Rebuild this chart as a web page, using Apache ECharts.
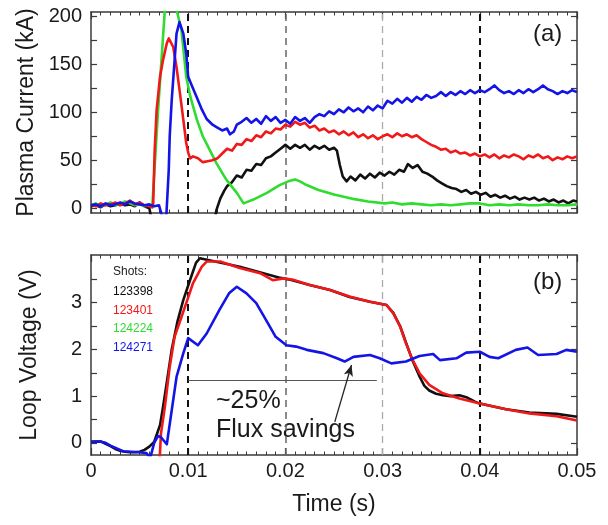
<!DOCTYPE html>
<html>
<head>
<meta charset="utf-8">
<script src="https://cdn.jsdelivr.net/npm/echarts@6/dist/echarts.min.js"></script>
<style>
html, body { margin: 0; padding: 0; background: #fff; }
#chart { width: 608px; height: 525px; }
</style>
</head>
<body>
<div id="chart"></div>
<script>
// ---- Panel (a): plasma current, kA, vs time, s ----
const ipBlack = [
  [0,2],[0.0005,3],[0.001,1],[0.0015,4],[0.002,2],[0.0025,3],[0.003,5],[0.0035,3],[0.004,4],[0.0045,2],
  [0.005,6],[0.0055,2],[0.006,0],[0.0064,-20],[0.0126,-20],[0.0129,-2],[0.0133,10],[0.0137,18],[0.0140,23],
  [0.0145,27],[0.0150,34],[0.0155,32],[0.0160,40],[0.0165,39],[0.0170,46],[0.0175,45],[0.0180,52],[0.0185,54],
  [0.0190,58],[0.0195,62],[0.0200,66],[0.0205,62],[0.0210,66],[0.0215,63],[0.0220,66],[0.0225,61],[0.0230,65],
  [0.0235,62],[0.0240,65],[0.0245,61],[0.0250,63],[0.0253,60],[0.0256,45],[0.0259,33],[0.0263,28],[0.0267,33],
  [0.0272,29],[0.0277,35],[0.0282,31],[0.0287,36],[0.0292,32],[0.0297,37],[0.0302,34],[0.0307,38],[0.0312,35],
  [0.0317,40],[0.0322,38],[0.0326,46],[0.0331,42],[0.0336,45],[0.0341,38],[0.0346,36],[0.0351,33],[0.0356,29],
  [0.0361,26],[0.0366,23],[0.0371,21],[0.0376,20],[0.0381,17],[0.0386,19],[0.0391,15],[0.0396,17],[0.0401,14],
  [0.0406,16],[0.0411,12],[0.0416,14],[0.0421,11],[0.0426,13],[0.0431,10],[0.0436,12],[0.0441,9],[0.0446,11],
  [0.0451,9],[0.0456,11],[0.0461,8],[0.0466,10],[0.0471,7],[0.0476,9],[0.0481,6],[0.0486,8],[0.0491,5],
  [0.0496,8],[0.0500,7]
];
const ipRed = [
  [0,4],[0.0005,2],[0.001,5],[0.0015,3],[0.002,4],[0.0025,6],[0.003,3],[0.0035,5],[0.004,8],[0.0045,4],
  [0.005,6],[0.0055,3],[0.006,2],[0.0063,1],[0.0064,5],[0.00655,60],[0.00675,102],[0.0071,137],[0.0074,154],
  [0.0078,172],[0.0080,177],[0.0082,175],[0.00846,168],[0.0088,147],[0.00915,120],[0.0095,92],[0.0098,68],
  [0.0100,58],[0.0102,52],[0.0105,54],[0.0110,52],[0.0115,48],[0.0117,46],[0.0120,49],[0.0125,50],[0.0130,52],
  [0.0135,57],[0.0140,62],[0.0145,60],[0.0150,67],[0.0155,66],[0.0160,72],[0.0165,70],[0.0170,76],[0.0175,74],
  [0.0180,80],[0.0185,78],[0.0190,83],[0.0195,82],[0.0200,87],[0.0205,85],[0.0210,90],[0.0215,87],[0.0220,89],
  [0.0225,84],[0.0230,86],[0.0235,81],[0.0240,83],[0.0245,79],[0.0250,81],[0.0255,77],[0.0260,80],[0.0265,76],
  [0.0270,79],[0.0275,74],[0.0280,77],[0.0285,73],[0.0290,76],[0.0295,72],[0.0300,75],[0.0305,77],[0.0310,74],
  [0.0315,78],[0.0320,75],[0.0325,77],[0.0330,74],[0.0335,76],[0.0340,72],[0.0345,69],[0.0350,66],[0.0355,64],
  [0.0360,61],[0.0365,62],[0.0370,58],[0.0375,60],[0.0380,57],[0.0385,58],[0.0390,55],[0.0395,57],[0.0400,54],
  [0.0405,56],[0.0410,53],[0.0415,56],[0.0420,52],[0.0425,55],[0.0430,53],[0.0435,56],[0.0440,54],[0.0445,51],
  [0.0450,55],[0.0455,53],[0.0460,56],[0.0465,52],[0.0470,54],[0.0475,50],[0.0480,53],[0.0485,51],[0.0490,54],
  [0.0495,52],[0.0500,54]
];
const ipGreen = [
  [0,3],[0.0005,5],[0.001,2],[0.0015,4],[0.002,6],[0.0025,3],[0.003,4],[0.0035,7],[0.004,5],[0.0045,3],
  [0.005,4],[0.0055,2],[0.006,3],[0.0063,1],[0.0064,2],[0.0069,102],[0.0076,207],[0.0082,250],[0.0088,207],
  [0.0093,186],[0.0098,137],[0.0102,117],[0.0109,92],[0.0115,75],[0.0122,61],[0.0129,47],[0.0139,30],
  [0.0150,16],[0.0157,5],[0.0167,9],[0.0181,16],[0.0194,24],[0.0203,28],[0.0210,30],[0.0215,28],[0.0220,25],
  [0.0234,19],[0.0251,14],[0.0268,10],[0.0285,7],[0.0302,5],[0.0310,6],[0.0320,4],[0.0330,5],[0.0340,4],
  [0.0350,3],[0.0360,4],[0.0370,3],[0.0380,4],[0.0390,5],[0.0400,5],[0.0410,3],[0.0420,4],[0.0430,3],
  [0.0440,4],[0.0450,3],[0.0460,3],[0.0470,4],[0.0480,3],[0.0490,3],[0.0500,4]
];
const ipBlue = [
  [0,3],[0.0005,4],[0.001,2],[0.0015,5],[0.002,3],[0.0025,4],[0.003,6],[0.0035,4],[0.004,7],[0.0045,5],
  [0.005,4],[0.0055,3],[0.006,4],[0.0065,2],[0.0070,3],[0.0073,-8],[0.00775,-8],[0.0080,40],[0.0081,75],
  [0.0083,112],[0.0085,140],[0.0088,182],[0.0091,194],[0.0093,188],[0.0095,182],[0.0098,161],[0.0100,137],
  [0.0104,127],[0.0109,115],[0.0114,103],[0.0119,93],[0.0125,87],[0.0130,84],[0.0135,81],[0.0140,83],
  [0.0143,77],[0.0147,80],[0.0150,87],[0.0155,90],[0.0160,94],[0.0165,89],[0.0170,93],[0.0175,88],[0.0180,96],
  [0.0185,91],[0.0190,95],[0.0195,89],[0.0200,92],[0.0205,88],[0.0210,95],[0.0215,91],[0.0220,94],[0.0225,89],
  [0.0230,95],[0.0235,98],[0.0240,96],[0.0245,101],[0.0250,98],[0.0255,103],[0.0260,100],[0.0265,105],
  [0.0270,101],[0.0275,104],[0.0280,100],[0.0285,106],[0.0290,102],[0.0295,107],[0.0300,104],[0.0305,112],
  [0.0310,109],[0.0315,114],[0.0320,110],[0.0325,115],[0.0330,111],[0.0335,116],[0.0340,113],[0.0345,118],
  [0.0350,115],[0.0355,117],[0.0360,121],[0.0365,117],[0.0370,121],[0.0375,118],[0.0380,122],[0.0385,119],
  [0.0390,123],[0.0395,120],[0.0400,123],[0.0405,121],[0.0410,124],[0.0415,128],[0.0420,123],[0.0425,120],
  [0.0430,122],[0.0435,119],[0.0440,123],[0.0445,120],[0.0450,124],[0.0455,121],[0.0460,124],[0.0465,128],
  [0.0470,124],[0.0475,122],[0.0480,119],[0.0485,122],[0.0490,120],[0.0495,123],[0.0500,121]
];

// ---- Panel (b): loop voltage, V, vs time, s ----
const vBlack = [
  [0,0.02],[0.0005,0.03],[0.001,0.03],[0.0015,-0.02],[0.002,-0.07],[0.0025,-0.13],[0.003,-0.17],[0.0035,-0.19],
  [0.004,-0.2],[0.0045,-0.2],[0.005,-0.19],[0.0055,-0.15],[0.0060,-0.08],[0.0065,0.02],[0.0068,0.2],
  [0.0071,0.38],[0.0074,0.75],[0.0078,1.3],[0.0083,1.99],[0.0089,2.6],[0.0095,3.06],[0.0102,3.49],
  [0.0108,3.85],[0.0112,3.95],[0.0153,3.77],[0.0195,3.53],[0.0205,3.49],[0.0225,3.38],[0.0246,3.27],
  [0.0266,3.12],[0.0287,3.02],[0.0304,2.95],[0.0311,2.78],[0.0318,2.5],[0.0324,2.15],[0.0331,1.75],
  [0.0338,1.42],[0.0343,1.22],[0.0348,1.12],[0.0355,1.05],[0.0362,1.02],[0.0370,1.0],[0.0379,1.02],
  [0.0387,0.97],[0.0395,0.88],[0.0400,0.84],[0.0427,0.72],[0.0451,0.65],[0.0479,0.62],[0.0500,0.56]
];
const vRed = [
  [0,-0.6],[0.0070,-0.6],[0.0072,0.2],[0.0076,0.77],[0.0081,1.63],[0.0086,2.27],[0.0092,2.63],[0.0098,2.99],
  [0.0105,3.42],[0.0114,3.77],[0.0119,3.88],[0.0133,3.88],[0.0153,3.74],[0.0174,3.63],[0.0187,3.48],
  [0.0198,3.52],[0.0208,3.49],[0.0225,3.38],[0.0246,3.27],[0.0266,3.13],[0.0287,3.02],[0.0304,2.95],
  [0.0311,2.77],[0.0318,2.49],[0.0324,2.13],[0.0331,1.77],[0.0338,1.49],[0.0348,1.24],[0.0362,1.06],
  [0.0379,0.95],[0.0400,0.84],[0.0427,0.72],[0.0451,0.63],[0.0479,0.57],[0.0500,0.48]
];
const vBlue = [
  [0,0.02],[0.0009,0.03],[0.0015,0.0],[0.002,-0.06],[0.0033,-0.18],[0.005,-0.2],[0.0057,-0.22],
  [0.0061,-0.32],[0.0065,0.0],[0.0069,0.15],[0.0072,0.12],[0.0078,-0.03],[0.0088,1.41],[0.0095,1.92],
  [0.0100,2.24],[0.0102,2.2],[0.0110,2.09],[0.0119,2.34],[0.0132,2.84],[0.0142,3.2],[0.0150,3.34],
  [0.0160,3.2],[0.0170,2.99],[0.0180,2.63],[0.0190,2.27],[0.0201,2.09],[0.0211,2.06],[0.0222,1.99],
  [0.0239,1.92],[0.0253,1.81],[0.0261,1.74],[0.0270,1.84],[0.0287,1.88],[0.0297,1.81],[0.0309,1.70],
  [0.0324,1.74],[0.0338,1.86],[0.0352,1.9],[0.0359,1.77],[0.0376,1.81],[0.0386,1.93],[0.0400,1.95],
  [0.0410,1.84],[0.0419,1.81],[0.0437,1.99],[0.0449,2.04],[0.0460,1.88],[0.0479,1.9],[0.0489,1.99],
  [0.0500,1.95]
];

// Axis ticks and labels
const timeTicks = [0, 0.01, 0.02, 0.03, 0.04, 0.05];
const currentLabels = [0, 50, 100, 150, 200];
const currentTicks = [0, 25, 50, 75, 100, 125, 150, 175, 200];
const voltageLabels = [0, 1, 2, 3];
const voltageTicks = [0, 0.5, 1, 1.5, 2, 2.5, 3, 3.5];
const guideTimes = [0.01, 0.02, 0.03, 0.04];

// Shot numbers and the flux-savings note
const shotNames = ['123398', '123401', '124224', '124271'];
const savingsLevel = 1.343;          // V, horizontal reference bar
const savingsSpan = [0.01, 0.0294];  // s
const arrowFrom = [0.02508, 0.45];
const arrowTo = [0.0268, 1.665];

const FONT = '"Liberation Sans", Arial, sans-serif';
const NARROW = '"Liberation Sans Narrow", "Liberation Sans", Arial, sans-serif';
const INK = '#1a1a1a';
const FRAME = '#3a3a3a';
const COLORS = { black: '#111111', red: '#f01818', green: '#2fdc2f', blue: '#1414e6' };

const guideStyles = [
  { color: '#111', width: 2, type: [7, 5] },
  { color: '#666', width: 1.5, type: [7, 5] },
  { color: '#aaa', width: 1.3, type: [7, 5] },
  { color: '#111', width: 2, type: [7, 5] }
];

function timeAxis(gridIndex, position, showLabels) {
  return {
    type: 'value', gridIndex, position, min: 0, max: 0.05, interval: 0.01,
    axisLine: { show: true, onZero: false, lineStyle: { color: FRAME, width: 1.5 } },
    axisTick: { show: true, inside: true, length: 7, lineStyle: { color: FRAME, width: 1.2 } },
    minorTick: { show: true, splitNumber: 10, length: 3.5, lineStyle: { color: FRAME, width: 1 } },
    splitLine: { show: false },
    axisLabel: {
      show: showLabels, margin: 6, fontSize: 20, fontFamily: FONT, color: INK,
      formatter: v => (v === 0 ? '0' : v.toFixed(2))
    },
    name: showLabels ? 'Time (s)' : '',
    nameLocation: 'middle', nameGap: 38,
    nameTextStyle: { fontSize: 23, fontFamily: FONT, color: INK }
  };
}

function valueAxis(gridIndex, position, min, max, labels, ticks, name) {
  const left = position === 'left';
  return {
    type: 'value', gridIndex, position, min, max,
    axisLine: { show: true, onZero: false, lineStyle: { color: FRAME, width: 1.5 } },
    axisTick: { show: true, inside: true, length: 6, customValues: ticks, lineStyle: { color: FRAME, width: 1.2 } },
    splitLine: { show: false },
    axisLabel: {
      show: left, customValues: labels, margin: 9, fontSize: 20, fontFamily: FONT, color: INK
    },
    name: left ? name : '',
    nameLocation: 'middle', nameGap: 50, nameRotate: 90,
    nameTextStyle: { fontSize: 23, fontFamily: FONT, color: INK }
  };
}

function guideLines(xi, yi) {
  return {
    type: 'line', xAxisIndex: xi, yAxisIndex: yi, data: [], silent: true, z: 1,
    markLine: {
      silent: true, symbol: 'none', animation: false, z: 1,
      label: { show: false },
      data: guideTimes.map((t, i) => ({ xAxis: t, lineStyle: guideStyles[i] }))
    }
  };
}

function curve(data, color, xi, yi, width) {
  return {
    type: 'line', data, xAxisIndex: xi, yAxisIndex: yi, showSymbol: false, symbol: 'none',
    animation: false, clip: true, z: 3,
    lineStyle: { color, width: width || 2.6, join: 'round' }
  };
}

const chart = echarts.init(document.getElementById('chart'), null, { renderer: 'canvas' });

const legendTexts = [{ text: 'Shots:', color: '#222' }].concat(
  shotNames.map((s, i) => ({ text: s, color: [COLORS.black, COLORS.red, COLORS.green, COLORS.blue][i] }))
);
const legendY = [273, 293, 311.5, 330, 349];

chart.setOption({
  backgroundColor: '#fff',
  animation: false,
  grid: [
    { left: 91, right: 31, top: 12, height: 201, outerBoundsMode: 'none' },
    { left: 91, right: 31, top: 255, height: 200, outerBoundsMode: 'none' }
  ],
  xAxis: [
    timeAxis(0, 'bottom', false),
    timeAxis(0, 'top', false),
    timeAxis(1, 'bottom', true),
    timeAxis(1, 'top', false)
  ],
  yAxis: [
    valueAxis(0, 'left', -5, 204.5, currentLabels, currentTicks, 'Plasma Current (kA)'),
    valueAxis(0, 'right', -5, 204.5, currentLabels, currentTicks, ''),
    valueAxis(1, 'left', -0.26, 4.02, voltageLabels, voltageTicks, 'Loop Voltage (V)'),
    valueAxis(1, 'right', -0.26, 4.02, voltageLabels, voltageTicks, '')
  ],
  series: [
    guideLines(0, 0),
    curve(ipBlack, COLORS.black, 0, 0),
    curve(ipGreen, COLORS.green, 0, 0),
    curve(ipRed, COLORS.red, 0, 0),
    curve(ipBlue, COLORS.blue, 0, 0),
    guideLines(2, 2),
    curve(vBlack, COLORS.black, 2, 2),
    curve(vRed, COLORS.red, 2, 2),
    Object.assign(curve(vBlue, COLORS.blue, 2, 2), {
      markLine: {
        silent: true, animation: false, label: { show: false },
        data: [
          [
            { coord: [savingsSpan[0], savingsLevel], symbol: 'none', lineStyle: { color: '#555', width: 1.2, type: 'solid' } },
            { coord: [savingsSpan[1], savingsLevel], symbol: 'none' }
          ],
          [
            { coord: arrowFrom, symbol: 'none', lineStyle: { color: '#222', width: 1.3, type: 'solid' } },
            { coord: arrowTo, symbol: 'arrow', symbolSize: [7, 11] }
          ]
        ]
      }
    })
  ],
  graphic: [
    { type: 'text', left: 533, top: 22, style: { text: '(a)', fontSize: 24, fontFamily: FONT, fill: INK } },
    { type: 'text', left: 533, top: 270, style: { text: '(b)', fontSize: 24, fontFamily: FONT, fill: INK } },
    { type: 'text', left: 216, top: 389, style: { text: '~25%', fontSize: 25, fontFamily: FONT, fill: INK } },
    { type: 'text', left: 216, top: 418, style: { text: 'Flux savings', fontSize: 25, fontFamily: FONT, fill: INK } }
  ].concat(legendTexts.map((d, i) => ({
    type: 'text', left: 113, top: legendY[i] - 7,
    style: { text: d.text, fontSize: 12, fontFamily: NARROW, fill: d.color }
  })))
});
</script>
</body>
</html>
